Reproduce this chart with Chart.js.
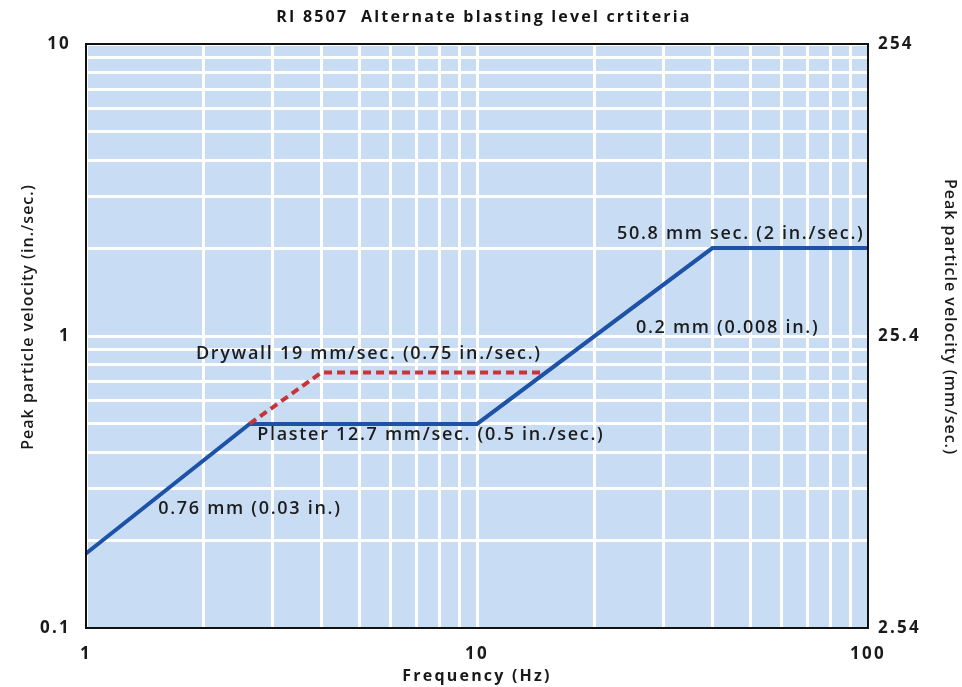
<!DOCTYPE html>
<html>
<head>
<meta charset="utf-8">
<script src="https://cdn.jsdelivr.net/npm/chart.js@4.4.1/dist/chart.umd.min.js"></script>
<style>
  html, body { margin: 0; padding: 0; background: #ffffff; }
  #wrap { width: 962px; height: 687px; }
</style>
</head>
<body>
<div id="wrap"><canvas id="c" width="962" height="687"></canvas></div>
<script>
// ---- data ----
const chartTitle = 'RI 8507  Alternate blasting level crtiteria';
const xTitle = 'Frequency (Hz)';
const yTitleLeft = 'Peak particle velocity (in./sec.)';
const yTitleRight = 'Peak particle velocity (mm/sec.)';

const xTickLabels = [1, 10, 100];
const yTickLabels = [0.1, 1, 10];
const yRightTicks = [2.54, 25.4, 254];

// main criteria line (Plaster)
const plasterFreq = [1, 2.62, 10, 40, 100];
const plasterPPV  = [0.18, 0.5, 0.5, 2, 2];

// drywall dashed line
const drywallFreq = [2.62, 4, 14.9];
const drywallPPV  = [0.5, 0.75, 0.75];

// annotation texts and their anchor (frequency, ppv)
const noteTexts = [
  'Drywall 19 mm/sec. (0.75 in./sec.)',
  'Plaster 12.7 mm/sec. (0.5 in./sec.)',
  '50.8 mm sec. (2 in./sec.)',
  '0.2 mm (0.008 in.)',
  '0.76 mm (0.03 in.)'
];
const noteFreq = [1.91, 2.74, 22.8, 25.5, 1.53];
const notePPV  = [0.87, 0.46, 2.24, 1.07, 0.255];

// ---- helpers ----
function decadeGrid(min, max) {
  const out = [];
  for (let d = min; d < max; d *= 10) {
    for (let m = 1; m < 10; m++) out.push(+(d * m).toPrecision(6));
  }
  out.push(max);
  return out;
}
const xGrid = decadeGrid(1, 100);
const yGrid = decadeGrid(0.1, 10);

const FONT = '"Open Sans", "DejaVu Sans", sans-serif';

const bgPlugin = {
  id: 'bgPlugin',
  beforeDraw(chart) {
    const {ctx, chartArea: a} = chart;
    ctx.letterSpacing = '2.2px';
    ctx.save();
    ctx.fillStyle = '#c8ddf3';
    ctx.fillRect(a.left, a.top, a.right - a.left, a.bottom - a.top);
    ctx.restore();
  },
  afterDatasetsDraw(chart) {
    const {ctx, chartArea: a} = chart;
    ctx.save();
    ctx.strokeStyle = '#111111';
    ctx.lineWidth = 2;
    ctx.strokeRect(a.left, a.top, a.right - a.left, a.bottom - a.top);
    ctx.restore();
  }
};

const notePlugin = {
  id: 'notePlugin',
  afterDatasetsDraw(chart) {
    const {ctx, scales, chartArea: a} = chart;
    ctx.save();
    ctx.letterSpacing = '1.7px';
    ctx.font = '600 18px ' + FONT;
    ctx.fillStyle = '#1c1c1c';
    ctx.textAlign = 'left';
    ctx.textBaseline = 'middle';
    noteTexts.forEach((t, i) => {
      const px = scales.x.getPixelForValue(noteFreq[i]);
      const py = scales.y.getPixelForValue(notePPV[i]);
      ctx.fillText(t, px, py);
    });
    ctx.restore();

    // vertical axis titles
    const cy = (a.top + a.bottom) / 2 - 19;
    ctx.save();
    ctx.letterSpacing = '1px';
    ctx.font = '600 16px ' + FONT;
    ctx.fillStyle = '#1a1a1a';
    ctx.textAlign = 'center';
    ctx.textBaseline = 'middle';
    ctx.translate(a.left - 58, cy);
    ctx.rotate(-Math.PI / 2);
    ctx.fillText(yTitleLeft, 0, 0);
    ctx.restore();

    ctx.save();
    ctx.letterSpacing = '1px';
    ctx.font = '600 16px ' + FONT;
    ctx.fillStyle = '#1a1a1a';
    ctx.textAlign = 'center';
    ctx.textBaseline = 'middle';
    ctx.translate(a.right + 82, cy);
    ctx.rotate(Math.PI / 2);
    ctx.fillText(yTitleRight, 0, 0);
    ctx.restore();
  }
};

const toPts = (xs, ys) => xs.map((x, i) => ({x, y: ys[i]}));

new Chart(document.getElementById('c'), {
  type: 'scatter',
  data: {
    datasets: [
      {
        label: 'Drywall',
        data: toPts(drywallFreq, drywallPPV),
        showLine: true,
        borderColor: '#c8343a',
        borderWidth: 4,
        borderDash: [8, 5],
        pointRadius: 0,
        fill: false
      },
      {
        label: 'Plaster',
        data: toPts(plasterFreq, plasterPPV),
        showLine: true,
        borderColor: '#1d52a6',
        borderWidth: 4,
        pointRadius: 0,
        fill: false
      }
    ]
  },
  options: {
    responsive: false,
    animation: false,
    layout: { padding: { left: 10, right: 4, top: 0, bottom: 0 } },
    plugins: {
      legend: { display: false },
      tooltip: { enabled: false },
      title: {
        display: true,
        text: chartTitle,
        color: '#151515',
        font: { family: FONT, size: 16, weight: '700' },
        padding: { top: 8, bottom: 16.8 }
      }
    },
    scales: {
      x: {
        type: 'logarithmic',
        min: 1, max: 100,
        afterBuildTicks(s) { s.ticks = xGrid.map(v => ({value: v})); },
        afterFit(s) { s.height = 59; },
        grid: { color: '#ffffff', lineWidth: 3, drawTicks: false },
        border: { display: false },
        ticks: {
          autoSkip: false, maxRotation: 0, padding: 16,
          color: '#1a1a1a',
          font: { family: FONT, size: 17, weight: '700' },
          callback: (v) => xTickLabels.includes(v) ? String(v) : ''
        },
        title: {
          display: true, text: xTitle, color: '#1a1a1a',
          font: { family: FONT, size: 16, weight: '700' },
          padding: { top: 0, bottom: 1 }
        }
      },
      y: {
        type: 'logarithmic',
        position: 'left',
        min: 0.1, max: 10,
        afterBuildTicks(s) { s.ticks = yGrid.map(v => ({value: v})); },
        afterFit(s) { s.width = 76; },
        grid: { color: '#ffffff', lineWidth: 3, drawTicks: false },
        border: { display: false },
        ticks: {
          autoSkip: false, padding: 15,
          color: '#1a1a1a',
          font: { family: FONT, size: 17, weight: '700' },
          callback: (v) => yTickLabels.includes(v) ? String(v) : ''
        }
      },
      y2: {
        type: 'logarithmic',
        position: 'right',
        min: 2.54, max: 254,
        afterBuildTicks(s) { s.ticks = yRightTicks.map(v => ({value: v})); },
        afterFit(s) { s.width = 90; },
        grid: { display: false, drawTicks: false },
        border: { display: false },
        ticks: {
          autoSkip: false, padding: 10,
          color: '#1a1a1a',
          font: { family: FONT, size: 17, weight: '700' },
          callback: (v) => yRightTicks.includes(v) ? String(v) : ''
        }
      }
    }
  },
  plugins: [bgPlugin, notePlugin]
});
</script>
</body>
</html>
